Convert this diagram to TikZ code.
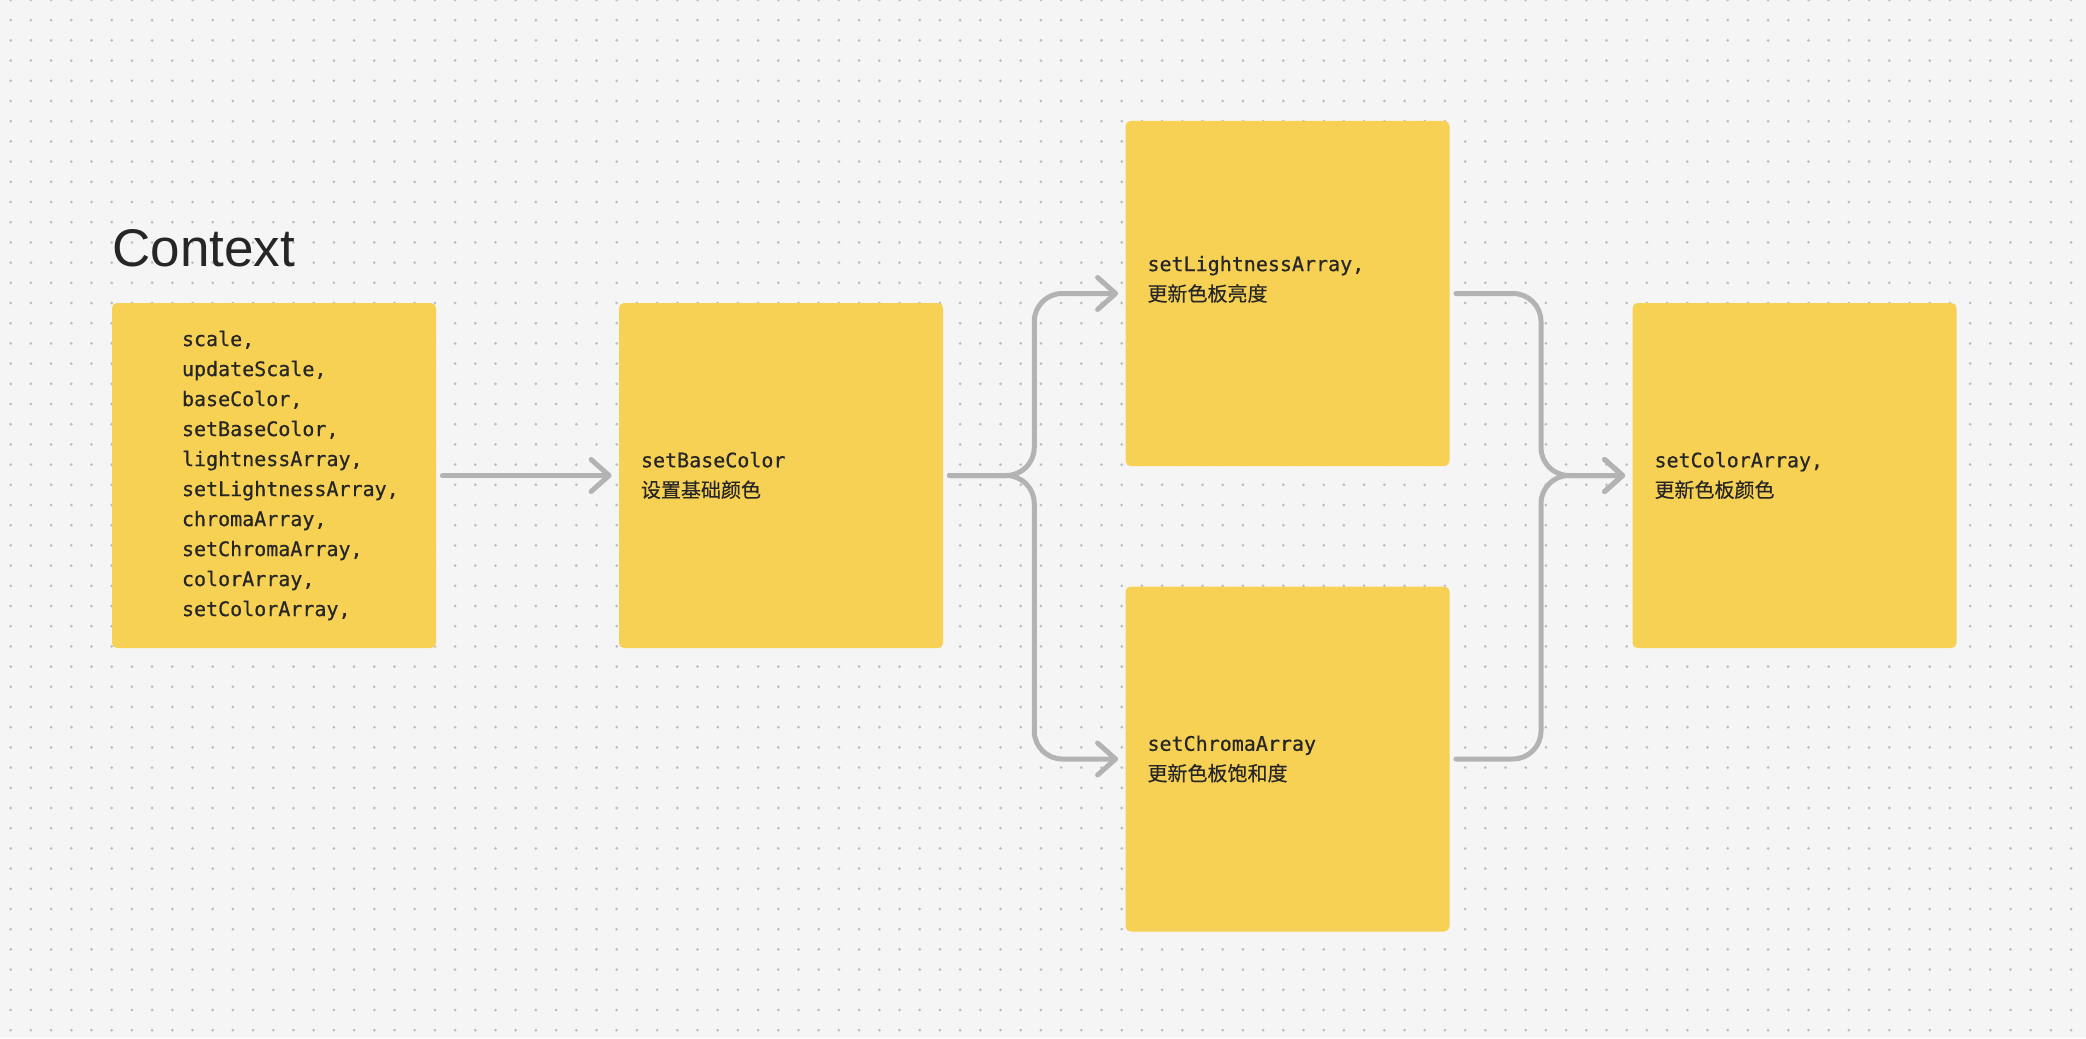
\documentclass[tikz,border=0pt]{standalone}
\usepackage{fontspec}
\setmainfont{Liberation Sans}
\setmonofont{DejaVu Sans Mono}[FakeBold=0.6]
\newfontfamily\cjk{Noto Sans CJK SC}[FakeBold=0.3]
\usetikzlibrary{arrows.meta,calc}
\definecolor{canvas}{HTML}{F5F5F5}
\definecolor{griddot}{HTML}{BDBDBD}
\definecolor{sticky}{HTML}{F7D154}
\definecolor{wire}{HTML}{B3B3B3}
\definecolor{ink}{HTML}{262626}
\newcommand{\codetext}{\ttfamily\fontsize{10pt}{15pt}\selectfont}

\begin{document}
\begin{tikzpicture}[x=0.5pt,y=-0.5pt,
  note/.style={fill=sticky, rounded corners=2.5pt, minimum width=162pt, minimum height=172.5pt, text width=140pt, inner xsep=11pt, align=left, text=ink, font=\codetext},
  flow/.style={draw=wire, line width=2.5pt, line cap=round, rounded corners=14pt, -{Straight Barb[length=9pt,width=16pt,round]}, shorten <=3pt, shorten >=3.5pt}]
\useasboundingbox (0,0) rectangle (2086,1038);
\fill[canvas] (0,0) rectangle (2086,1038);
\foreach \j in {0,...,51}
  \fill[griddot] \foreach \i in {0,...,103} {(10.7+20.2*\i,20.2*\j) circle (0.75pt)};
\node[anchor=base west, inner sep=0pt, text=ink, font=\fontsize{26.5pt}{30pt}\selectfont] (title) at (112,266) {Context};
\node[note] (ctx) at (274,475.5) {\leftskip=24pt\relax scale,\\updateScale,\\baseColor,\\setBaseColor,\\lightnessArray,\\setLightnessArray,\\chromaArray,\\setChromaArray,\\colorArray,\\setColorArray,\par};
\node[note] (base) at (781,475.5) {setBaseColor\\{\cjk 设置基础颜色}};
\node[note] (light) at (1287.5,293.5) {setLightnessArray,\\{\cjk 更新色板亮度}\\\mbox{}};
\node[note] (chroma) at (1287.5,759) {setChromaArray\\{\cjk 更新色板饱和度}};
\node[note] (palette) at (1794.5,475.5) {setColorArray,\\{\cjk 更新色板颜色}};
\draw[flow] (ctx.east) -- (base.west);
\draw[flow] (base.east) -| ($(base.east)!.5!(light.west)$) |- (light.west);
\draw[flow] (base.east) -| ($(base.east)!.5!(chroma.west)$) |- (chroma.west);
\draw[flow] (light.east) -| ($(light.east)!.5!(palette.west)$) |- (palette.west);
\draw[flow] (chroma.east) -| ($(chroma.east)!.5!(palette.west)$) |- (palette.west);
\end{tikzpicture}
\end{document}
